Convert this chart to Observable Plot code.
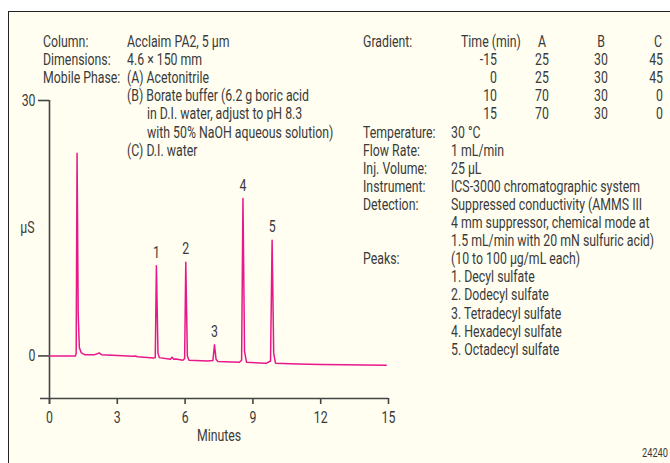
<!DOCTYPE html>
<html>
<head>
<meta charset="utf-8">
<script src="https://cdn.jsdelivr.net/npm/d3@7"></script>
<script src="https://cdn.jsdelivr.net/npm/@observablehq/plot@0.6"></script>
<style>
  html, body { margin: 0; padding: 0; background: #ffffff; }
  #wrap { position: relative; width: 670px; height: 463px; overflow: hidden; background: #ffffff; }
  #frame { position: absolute; left: 8px; top: 11px; width: 700px; height: 500px;
           border-left: 1.6px solid #222; border-top: 1.6px solid #222; background: #fffef1; z-index: 0; }
  #chart { position: absolute; left: 0; top: 0; z-index: 1; }
  #chart svg { background: transparent !important; }
</style>
</head>
<body>
<div id="wrap"><div id="frame"></div><div id="chart"></div></div>
<script>
// ---- data ----
const time = [0, 1.15, 1.18, 1.22, 1.27, 1.32, 1.4, 1.55, 2.0, 2.2, 2.3, 3.0, 3.7, 3.8, 3.9, 4.6, 4.68, 4.73, 4.8, 4.86,
  5.35, 5.42, 5.5, 5.6, 5.9, 5.98, 6.03, 6.1, 6.17, 7.0, 7.23, 7.3, 7.37, 7.45, 8.4, 8.5, 8.56, 8.63, 8.72,
  9.6, 9.78, 9.85, 9.92, 10.0, 11, 12, 13, 14.9];
const signal = [0, 0, 0.3, 23.8, 5, 1.0, 0.4, 0.15, 0.15, 0.35, 0.15, 0.05, -0.05, 0.0, -0.1, -0.25, -0.2, 10.6, 0.3, -0.2,
  -0.4, -0.15, -0.4, -0.35, -0.5, -0.3, 11.0, 0.0, -0.5, -0.6, -0.55, 1.3, -0.4, -0.65, -0.75, -0.5, 18.5, 0.5, -0.75,
  -0.85, -0.6, 13.6, 0.3, -0.85, -0.95, -1.0, -1.05, -1.1];
const peakLabels = ["1", "2", "3", "4", "5"];
const peakTimes = [4.73, 6.03, 7.3, 8.56, 9.85];
const peakHeights = [10.6, 11.0, 1.3, 18.5, 13.6];
const xTicks = [0, 3, 6, 9, 12, 15];
const yTicks = [0, 30];
const xLabel = "Minutes";
const yLabel = "µS";

const leftLabels = ["Column:", "Dimensions:", "Mobile Phase:"];
const leftValues = ["Acclaim PA2, 5 µm", "4.6 × 150 mm", "(A) Acetonitrile",
  "(B) Borate buffer (6.2 g boric acid", "in D.I. water, adjust to pH 8.3",
  "with 50% NaOH aqueous solution)", "(C) D.I. water"];
const gradHeader = ["Time (min)", "A", "B", "C"];
const gradTime = ["-15", "0", "10", "15"];
const gradA = ["25", "25", "70", "70"];
const gradB = ["30", "30", "30", "30"];
const gradC = ["45", "45", "0", "0"];
const rightLabels = [["Gradient:", 0], ["Temperature:", 5], ["Flow Rate:", 6], ["Inj. Volume:", 7],
  ["Instrument:", 8], ["Detection:", 9], ["Peaks:", 12]];
const rightValues = ["30 °C", "1 mL/min", "25 µL", "ICS-3000 chromatographic system",
  "Suppressed conductivity (AMMS III", "4 mm suppressor, chemical mode at",
  "1.5 mL/min with 20 mN sulfuric acid)", "(10 to 100 µg/mL each)",
  "1. Decyl sulfate", "2. Dodecyl sulfate", "3. Tetradecyl sulfate",
  "4. Hexadecyl sulfate", "5. Octadecyl sulfate"];
const figNumber = "24240";

const trace = time.map((t, i) => ({t, s: signal[i]}));
const peaks = peakLabels.map((l, i) => ({l, t: peakTimes[i], h: peakHeights[i]}));

const FONT = "Roboto, 'Liberation Sans', sans-serif";
const INK = "#3a3a3a";
const AX = "#444";
const SX = 0.77; // horizontal squeeze to mimic the condensed face of the reference

const chart = Plot.plot({
  width: 670, height: 463,
  marginLeft: 49, marginRight: 282, marginTop: 100, marginBottom: 65,
  x: {domain: [0, 15]},
  y: {domain: [-5, 30]},
  style: {background: "transparent", fontFamily: FONT, fontSize: "16px", color: INK, overflow: "visible"},
  marks: [
    Plot.ruleX([0], {y1: -5.7, y2: 30, stroke: AX, strokeWidth: 1.6}),
    Plot.ruleY([-5], {x1: -0.4, x2: 15, stroke: AX, strokeWidth: 1.6}),
    Plot.axisY({ticks: yTicks, tickSize: 11, tickPadding: 3, label: null, stroke: AX, strokeWidth: 1.6}),
    Plot.axisX({ticks: xTicks, tickSize: 6, tickPadding: 7, label: null, stroke: AX, strokeWidth: 1.6}),
    Plot.text([xLabel], {frameAnchor: "bottom", dy: 42, fontSize: 16, fill: INK}),
    Plot.text([yLabel], {x: 0, y: 15, dx: -22, fontSize: 16, fill: INK}),
    Plot.line(trace, {x: "t", y: "s", stroke: "#e8178a", strokeWidth: 1.5, curve: "linear"}),
    Plot.text(peaks, {x: "t", y: "h", text: "l", dy: -13, fontSize: 16, fill: INK})
  ]
});
document.getElementById("chart").appendChild(chart);

// narrow the Plot-drawn labels
d3.select(chart).selectAll("text").each(function () {
  const t = this.getAttribute("transform");
  if (t) this.setAttribute("transform", t + ` scale(${SX},1)`);
});

// annotation text blocks
const svg = d3.select(chart);
const g = svg.append("g").attr("font-family", FONT).attr("font-size", 16).attr("fill", INK).attr("text-anchor", "start");
const base = 47, step = 18.1;
const put = (s, x, r, anchor = "start") => g.append("text")
  .attr("transform", `translate(${x},${base + step * r}) scale(${SX},1)`)
  .attr("text-anchor", anchor).text(s);
leftLabels.forEach((s, i) => put(s, 43, i));
leftValues.forEach((s, i) => put(s, (i >= 4 && i <= 5) ? 147 : 127, i));
rightLabels.forEach(([s, r]) => put(s, 363, r));
put(gradHeader[0], 461, 0);
put(gradHeader[1], 542, 0, "middle");
put(gradHeader[2], 601, 0, "middle");
put(gradHeader[3], 658, 0, "middle");
gradTime.forEach((s, i) => put(s, 497, i + 1, "end"));
gradA.forEach((s, i) => put(s, 542, i + 1, "middle"));
gradB.forEach((s, i) => put(s, 601, i + 1, "middle"));
gradC.forEach((s, i) => put(s, 663, i + 1, "end"));
rightValues.forEach((s, i) => put(s, 451, i + 5));
g.append("text").attr("transform", `translate(668,457) scale(${SX},1)`).attr("text-anchor", "end").attr("font-size", 12).text(figNumber);
</script>
</body>
</html>
